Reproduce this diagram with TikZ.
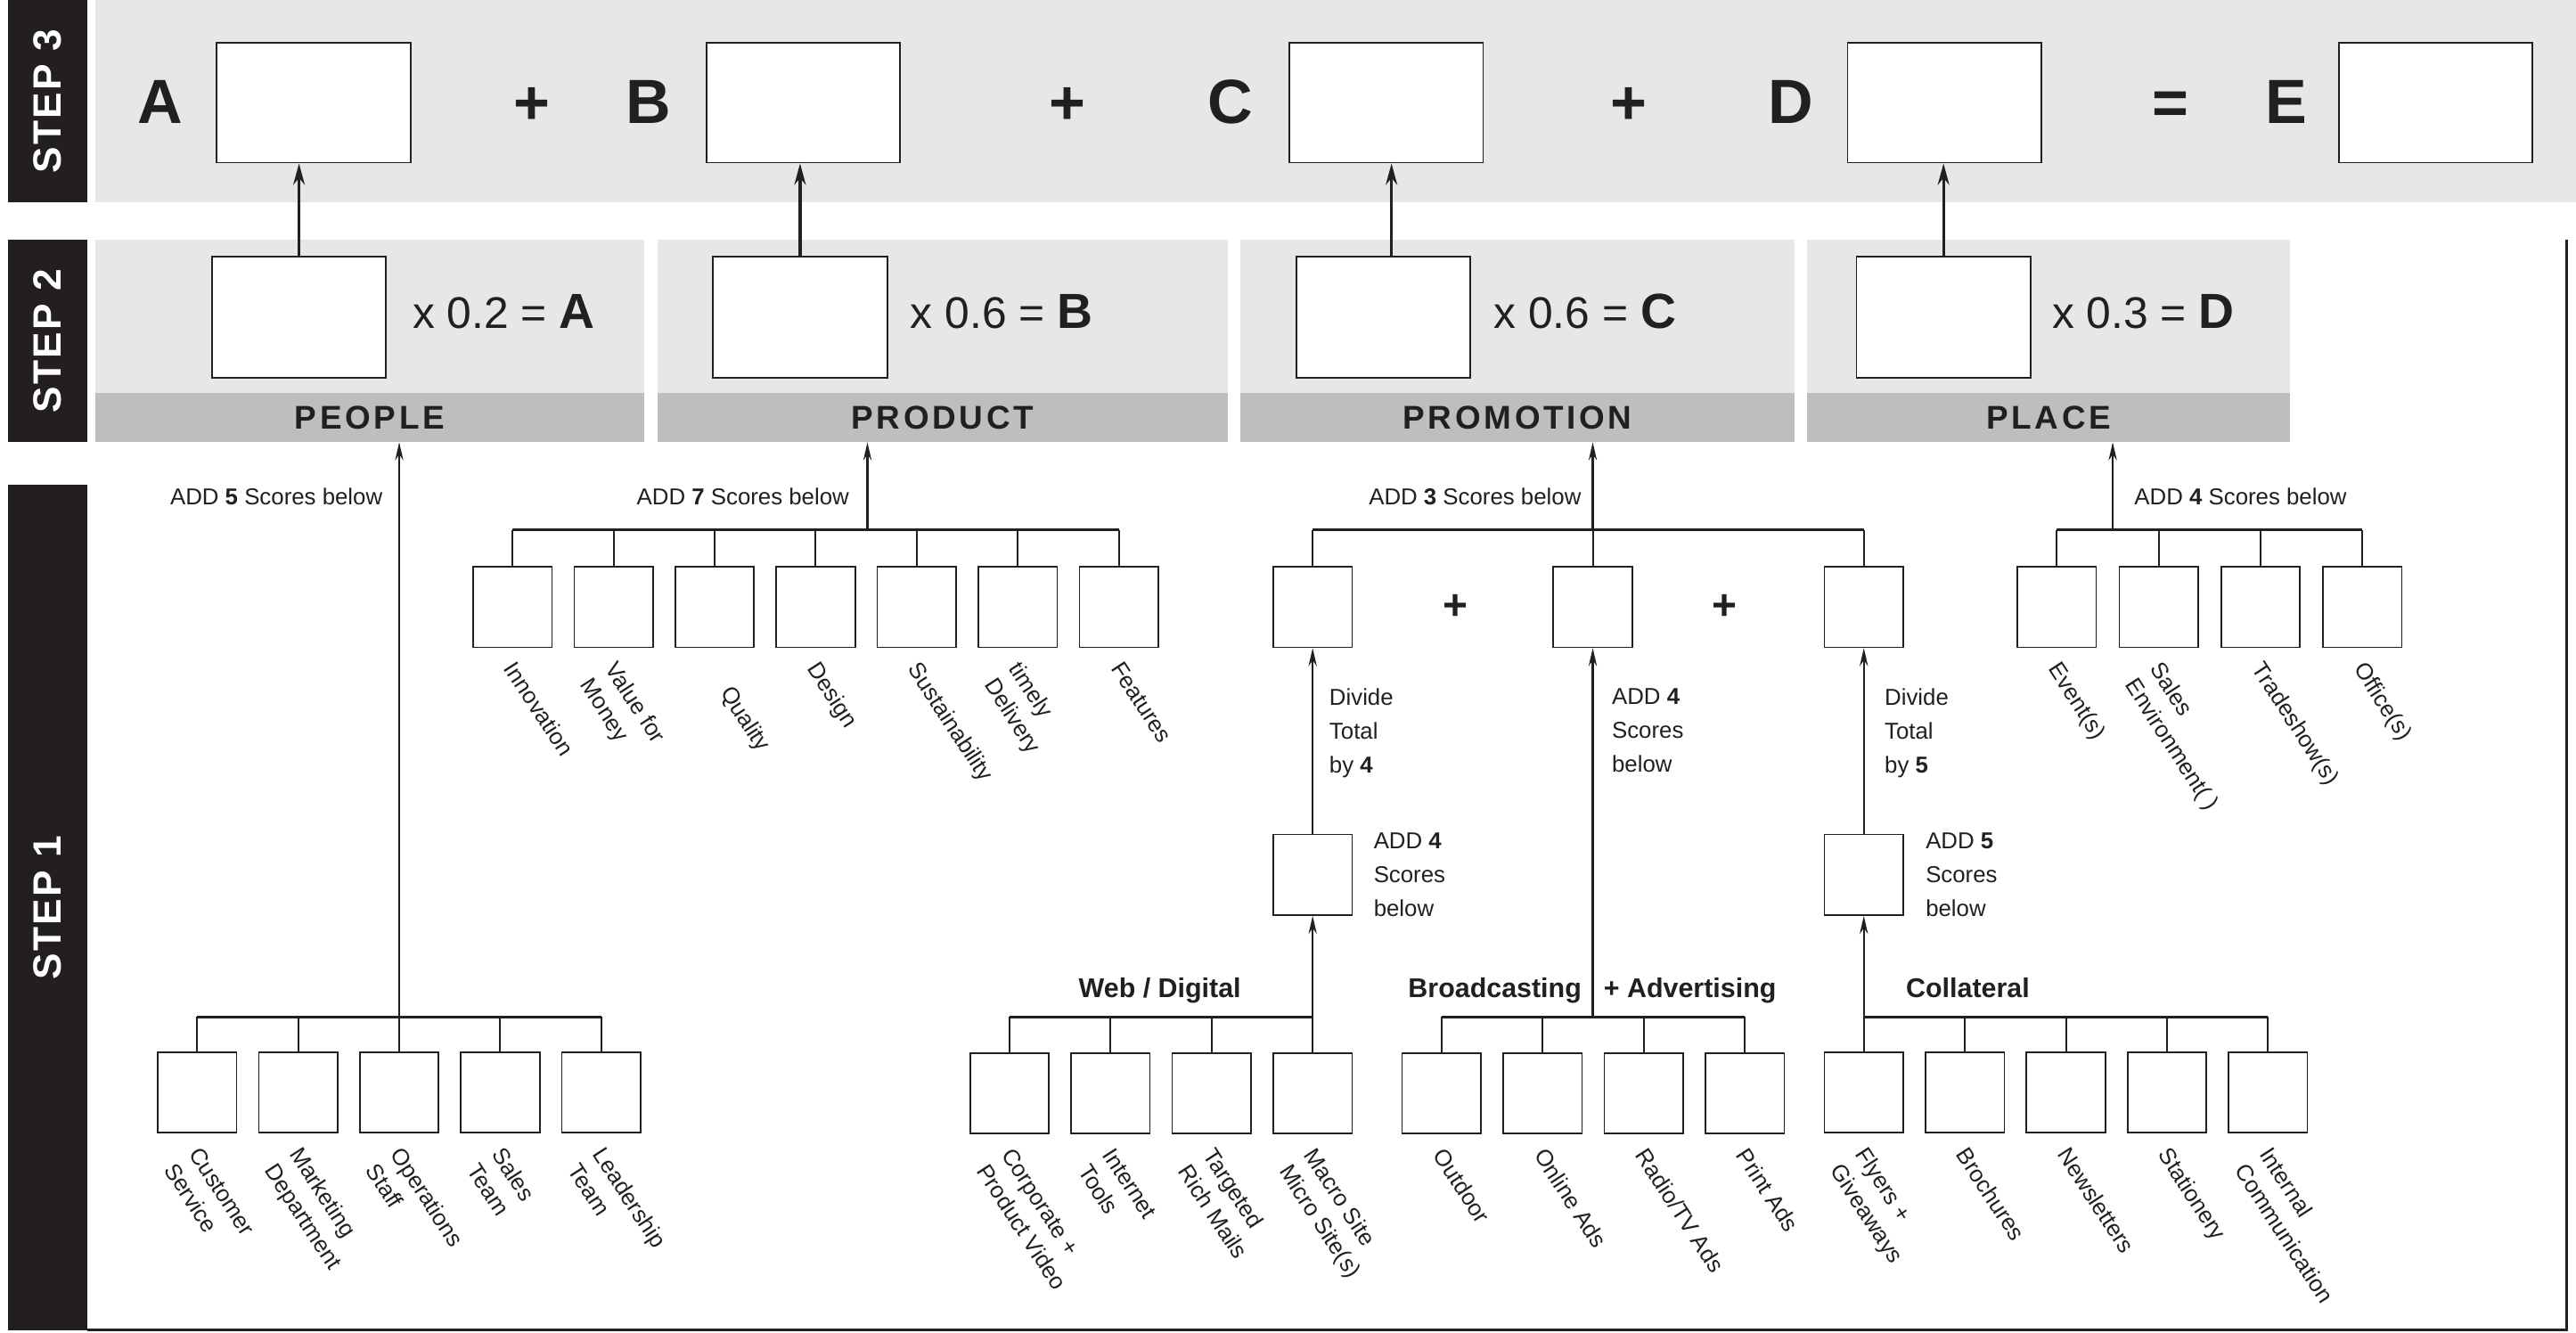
\documentclass[tikz,border=0pt]{standalone}
\usepackage{fontspec}
\setmainfont{Liberation Sans}
\newfontfamily\stepfont{Liberation Sans}[LetterSpace=5]
\newfontfamily\bandfont{Liberation Sans}[LetterSpace=10]
\usetikzlibrary{arrows.meta}
\definecolor{panelgray}{HTML}{E6E7E8}
\definecolor{bandgray}{HTML}{BCBEC0}
\definecolor{ink}{HTML}{231F20}
\newcommand{\lab}[3]{\node[lbl] (#1) at ([shift={(3,7)}]#2.south) {#3};}
\begin{document}
\begin{tikzpicture}[x=1pt,y=-1pt,
  stepbar/.style={fill=ink, inner sep=0pt, minimum width=48pt},
  steptxt/.style={text=white, rotate=90, inner sep=0pt, font=\stepfont\bfseries\fontsize{24}{28}\selectfont},
  panel/.style={fill=panelgray, inner sep=0pt, minimum height=123pt},
  band/.style={fill=bandgray, inner sep=0pt, minimum height=30pt, text=ink, font=\bandfont\bfseries\fontsize{20}{24}\selectfont},
  bigbox/.style={draw=ink, fill=white, line width=1pt, inner sep=0pt, minimum width=118pt, minimum height=73pt},
  midbox/.style={draw=ink, fill=white, line width=1pt, inner sep=0pt, minimum width=106pt, minimum height=74pt},
  sbox/.style={draw=ink, fill=white, line width=0.9pt, inner sep=0pt, minimum width=48pt, minimum height=49pt},
  bigletter/.style={inner sep=0pt, text=ink, font=\bfseries\fontsize{38}{40}\selectfont},
  mult/.style={inner sep=0pt, text=ink, font=\fontsize{27}{30}\selectfont},
  addlbl/.style={inner sep=0pt, text=ink, font=\fontsize{14}{18}\selectfont},
  multi/.style={inner sep=0pt, text=ink, align=left, anchor=north west, font=\fontsize{14}{20.5}\selectfont},
  grp/.style={inner sep=0pt, text=ink, font=\bfseries\fontsize{16.5}{20}\selectfont},
  lbl/.style={rotate=-57, anchor=north west, inner sep=0pt, align=left, text=ink, font=\fontsize{14}{18}\selectfont},
  brk/.style={draw=ink, line width=1.6pt},
  stem/.style={draw=ink, line width=1.1pt},
  arr/.style={draw=ink, line width=1.2pt, -{Stealth[length=11pt,width=5pt]}},
  arrbig/.style={draw=ink, line width=1.8pt, -{Stealth[length=13pt,width=7pt]}}
]
\useasboundingbox (0,0) rectangle (1568,811);
\fill[white] (0,0) rectangle (1568,811);

% ---------------- STEP 3 ----------------
\node[stepbar, minimum height=123pt] (s3bar) at (29,61.5) {};
\node[steptxt] (s3txt) at (s3bar.center) {STEP 3};
\node[panel, minimum width=1510pt] (s3band) at (813,61.5) {};
\node[bigbox] (a3) at (191,62.5) {};
\node[bigbox] (b3) at (489,62.5) {};
\node[bigbox] (c3) at (843.75,62.5) {};
\node[bigbox] (d3) at (1183.6,62.5) {};
\node[bigbox] (e3) at (1482.5,62.5) {};
\node[bigletter] (la) at (97.7,62) {A};
\node[bigletter] (lb) at (395,62) {B};
\node[bigletter] (lc) at (749,62) {C};
\node[bigletter] (ld) at (1090,62) {D};
\node[bigletter] (le) at (1391.5,62) {E};
\node[bigletter] (pl1) at (324,64.5) {+};
\node[bigletter] (pl2) at (650,64.5) {+};
\node[bigletter] (pl3) at (991.5,64.5) {+};
\node[bigletter] (eq) at (1321,66) {=};

% ---------------- STEP 2 ----------------
\node[stepbar, minimum height=123pt] (s2bar) at (29,207.5) {};
\node[steptxt] (s2txt) at (s2bar.center) {STEP 2};
\node[panel, minimum width=334pt] (pan1) at (225,207.5) {};
\node[panel, minimum width=347.5pt] (pan2) at (573.75,207.5) {};
\node[panel, minimum width=337.4pt] (pan3) at (923.7,207.5) {};
\node[panel, minimum width=294pt] (pan4) at (1247,207.5) {};
\node[band, minimum width=334pt] (people) at (225,254) {PEOPLE};
\node[band, minimum width=347.5pt] (product) at (573.75,254) {PRODUCT};
\node[band, minimum width=337.4pt] (promotion) at (923.7,254) {PROMOTION};
\node[band, minimum width=294pt] (place) at (1247,254) {PLACE};
\node[midbox] (q1) at (182,193) {};
\node[midbox] (q2) at (487,193) {};
\node[midbox] (q3) at (842,193) {};
\node[midbox] (q4) at (1183,193) {};
\node[mult, anchor=base west] (m1) at (251,200) {x 0.2 = {\bfseries\fontsize{30}{30}\selectfont A}};
\node[mult, anchor=base west] (m2) at (554,200) {x 0.6 = {\bfseries\fontsize{30}{30}\selectfont B}};
\node[mult, anchor=base west] (m3) at (909,200) {x 0.6 = {\bfseries\fontsize{30}{30}\selectfont C}};
\node[mult, anchor=base west] (m4) at (1249,200) {x 0.3 = {\bfseries\fontsize{30}{30}\selectfont D}};
\draw[arrbig] (q1.north) -- (q1.north |- a3.south);
\draw[arrbig] (q2.north) -- (q2.north |- b3.south);
\draw[arrbig] ([shift={(5,0)}]q3.north) -- ([shift={(5,0)}]q3.north |- c3.south);
\draw[arrbig] (q4.north) -- (q4.north |- d3.south);

% ---------------- STEP 1 ----------------
\node[stepbar, minimum height=515pt] (s1bar) at (29,552.5) {};
\node[steptxt] (s1txt) at (s1bar.center) {STEP 1};
\coordinate (corner) at (1562.5,809.5);
\draw[ink, line width=1.6pt] (s1bar.south east |- corner) -- (corner) -- (corner |- pan1.north);

\coordinate (ytop) at (0,322.5);
\coordinate (ybot) at (0,619);

% PEOPLE
\foreach \i/\x in {1/120,2/181.5,3/243,4/304.5,5/366}
  \node[sbox] (pe\i) at (\x,665) {};
\draw[brk] (pe1.north |- ybot) -- (pe5.north |- ybot);
\foreach \i in {1,...,5} \draw[stem] (pe\i.north) -- (pe\i.north |- ybot);
\draw[arr] (pe3.north |- ybot) -- (pe3.north |- people.south);
\node[addlbl, anchor=base east] (adpe) at (233,307) {ADD \textbf{5} Scores below};
\lab{lpe1}{pe1}{Customer\\Service}
\lab{lpe2}{pe2}{Marketing\\Department}
\lab{lpe3}{pe3}{Operations\\Staff}
\lab{lpe4}{pe4}{Sales\\Team}
\lab{lpe5}{pe5}{Leadership\\Team}

% PRODUCT
\foreach \i/\x in {1/312,2/373.5,3/435,4/496.5,5/558,6/619.5,7/681}
  \node[sbox] (pr\i) at (\x,369.5) {};
\draw[brk] (pr1.north |- ytop) -- (pr7.north |- ytop);
\foreach \i in {1,...,7} \draw[stem] (pr\i.north) -- (pr\i.north |- ytop);
\coordinate (prarr) at (528,322.5);
\draw[arr] (prarr) -- (prarr |- product.south);
\node[addlbl, anchor=base east] (adpr) at (517,307) {ADD \textbf{7} Scores below};
\lab{lpr1}{pr1}{Innovation}
\lab{lpr2}{pr2}{Value for\\Money}
\node[lbl] (lpr3) at (446.8,415.8) {Quality};
\lab{lpr4}{pr4}{Design}
\lab{lpr5}{pr5}{Sustainability}
\lab{lpr6}{pr6}{timely\\Delivery}
\lab{lpr7}{pr7}{Features}

% PROMOTION upper
\node[sbox] (pm1) at (799,369.5) {};
\node[sbox] (pm2) at (969.5,369.5) {};
\node[sbox] (pm3) at (1134.5,369.5) {};
\draw[brk] (pm1.north |- ytop) -- (pm3.north |- ytop);
\draw[stem] (pm1.north) -- (pm1.north |- ytop);
\draw[stem] (pm2.north) -- (pm2.north |- ytop);
\draw[stem] (pm3.north) -- (pm3.north |- ytop);
\draw[arr] (pm2.north |- ytop) -- (pm2.north |- promotion.south);
\node[addlbl, anchor=base east] (adpm) at (962.6,307) {ADD \textbf{3} Scores below};
\node[inner sep=0pt, text=ink, font=\bfseries\fontsize{26}{28}\selectfont] (pp1) at (886,369.5) {+};
\node[inner sep=0pt, text=ink, font=\bfseries\fontsize{26}{28}\selectfont] (pp2) at (1050,369.5) {+};

\node[sbox] (sm1) at (799,532.5) {};
\node[sbox] (sm2) at (1134.5,532.5) {};
\draw[arr] (sm1.north) -- (pm1.south);
\draw[arr] (sm2.north) -- (pm3.south);
\draw[arr] (pm2.south |- ybot) -- (pm2.south);
\node[multi] (dv1) at (809,419) {Divide\\Total\\by \textbf{4}};
\node[multi] (dv2) at (1147,419) {Divide\\Total\\by \textbf{5}};
\node[multi] (ad4m) at (981,419) {ADD \textbf{4}\\Scores\\below};
\node[multi] (ad4s) at (836,507) {ADD \textbf{4}\\Scores\\below};
\node[multi] (ad5s) at (1172,507) {ADD \textbf{5}\\Scores\\below};

% Web / Digital
\foreach \i/\x in {1/614.5,2/676,3/737.5,4/799}
  \node[sbox] (wb\i) at (\x,665.5) {};
\draw[brk] (wb1.north |- ybot) -- (wb4.north |- ybot);
\foreach \i in {1,...,4} \draw[stem] (wb\i.north) -- (wb\i.north |- ybot);
\draw[arr] (wb4.north |- ybot) -- (sm1.south);
\node[grp, anchor=base] (gweb) at (706,607) {Web / Digital};
\lab{lwb1}{wb1}{Corporate +\\Product Video}
\lab{lwb2}{wb2}{Internet\\Tools}
\lab{lwb3}{wb3}{Targeted\\Rich Mails}
\lab{lwb4}{wb4}{Macro Site\\Micro Site(s)}

% Broadcasting + Advertising
\foreach \i/\x in {1/877.5,2/939,3/1000.5,4/1062}
  \node[sbox] (bc\i) at (\x,665.5) {};
\draw[brk] (bc1.north |- ybot) -- (bc4.north |- ybot);
\foreach \i in {1,...,4} \draw[stem] (bc\i.north) -- (bc\i.north |- ybot);
\node[grp, anchor=base west] (gbc1) at (857,607) {Broadcasting};
\node[grp, anchor=base west] (gbc2) at (976,607) {+ Advertising};
\lab{lbc1}{bc1}{Outdoor}
\lab{lbc2}{bc2}{Online Ads}
\lab{lbc3}{bc3}{Radio/TV Ads}
\lab{lbc4}{bc4}{Print Ads}

% Collateral
\foreach \i/\x in {1/1134.5,2/1196,3/1257.5,4/1319,5/1380.5}
  \node[sbox] (co\i) at (\x,665) {};
\draw[brk] (co1.north |- ybot) -- (co5.north |- ybot);
\foreach \i in {1,...,5} \draw[stem] (co\i.north) -- (co\i.north |- ybot);
\draw[arr] (co1.north |- ybot) -- (sm2.south);
\node[grp, anchor=base west] (gco) at (1160,607) {Collateral};
\lab{lco1}{co1}{Flyers +\\Giveaways}
\lab{lco2}{co2}{Brochures}
\lab{lco3}{co3}{Newsletters}
\lab{lco4}{co4}{Stationery}
\lab{lco5}{co5}{Internal\\Communication}

% PLACE
\foreach \i/\x in {1/1252,2/1314,3/1376,4/1438}
  \node[sbox] (pc\i) at (\x,369.5) {};
\draw[brk] (pc1.north |- ytop) -- (pc4.north |- ytop);
\foreach \i in {1,...,4} \draw[stem] (pc\i.north) -- (pc\i.north |- ytop);
\coordinate (plarr) at (1286,322.5);
\draw[arr] (plarr) -- (plarr |- place.south);
\node[addlbl, anchor=base west] (adpc) at (1299,307) {ADD \textbf{4} Scores below};
\lab{lpc1}{pc1}{Event(s)}
\lab{lpc2}{pc2}{Sales\\Environment( )}
\lab{lpc3}{pc3}{Tradeshow(s)}
\lab{lpc4}{pc4}{Office(s)}
\end{tikzpicture}
\end{document}
